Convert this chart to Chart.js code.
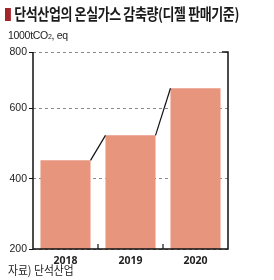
<!DOCTYPE html>
<html>
<head>
<meta charset="utf-8">
<script src="https://cdn.jsdelivr.net/npm/chart.js@4/dist/chart.umd.min.js"></script>
<style>
  html, body { margin: 0; padding: 0; background: #fff; }
  #wrap { position: relative; width: 274px; height: 280px; overflow: hidden; font-family: "Noto Sans CJK KR", sans-serif; }
  #chart { position: absolute; left: 0; top: 0; }
  .title { position: absolute; left: 5px; top: 2px; font-size: 15.5px; font-weight: 700; color: #1a1a1a; white-space: nowrap; transform: scaleX(0.84); transform-origin: left top; letter-spacing: -0.5px; }
  .title .mark { display: inline-block; width: 7px; height: 13px; background: #a3252b; margin-right: 4px; vertical-align: -1px; }
  .unit { position: absolute; left: 8px; top: 29px; font-family: "Liberation Sans", sans-serif; font-size: 10.5px; color: #222; letter-spacing: -0.3px; }
  .unit sub { font-size: 7px; vertical-align: 0; }
  .src { position: absolute; left: 8px; top: 261px; font-size: 12px; color: #222; transform: scaleX(0.9); transform-origin: left top; }
</style>
</head>
<body>
<div id="wrap">
  <canvas id="chart" width="274" height="280"></canvas>
  <div class="title"><span class="mark"></span>단석산업의 온실가스 감축량(디젤 판매기준)</div>
  <div class="unit">1000tCO<sub>2</sub>, eq</div>
  <div class="src">자료) 단석산업</div>
</div>
<script>
// data
var years = ['2018', '2019', '2020'];
var reduction = [452, 523, 657];
var tickValues = [200, 400, 600, 760];   // top line is printed as 800 in the source
var tickLabels = ['200', '400', '600', '800'];

var barColor = '#e8957e';

// draws the axis frame, the connectors between bar tops and small category marks
var decorPlugin = {
  id: 'decor',
  afterDatasetsDraw: function(chart) {
    var ctx = chart.ctx;
    var area = chart.chartArea;
    var xs = chart.scales.x;
    var bars = chart.getDatasetMeta(0).data;
    ctx.save();
    ctx.setLineDash([]);
    ctx.strokeStyle = '#111';
    ctx.lineWidth = 1.5;
    ctx.beginPath();
    ctx.moveTo(area.left, area.top);
    ctx.lineTo(area.left, area.bottom);
    ctx.lineTo(area.right, area.bottom);
    ctx.lineTo(area.right, area.top);
    ctx.lineTo(area.right - 6, area.top);
    ctx.stroke();

    ctx.lineWidth = 1.2;
    for (var i = 0; i < bars.length - 1; i++) {
      var a = bars[i], b = bars[i + 1];
      ctx.beginPath();
      ctx.moveTo(a.x + a.width / 2, a.y);
      ctx.lineTo(b.x - b.width / 2, b.y);
      ctx.stroke();
      var mid = (xs.getPixelForValue(i) + xs.getPixelForValue(i + 1)) / 2;
      ctx.beginPath();
      ctx.moveTo(mid, area.bottom);
      ctx.lineTo(mid, area.bottom - 5);
      ctx.stroke();
    }
    ctx.restore();
  }
};

new Chart(document.getElementById('chart'), {
  type: 'bar',
  data: {
    labels: years,
    datasets: [{
      data: reduction,
      backgroundColor: barColor,
      barPercentage: 0.77,
      categoryPercentage: 1.0
    }]
  },
  options: {
    responsive: false,
    animation: false,
    layout: { padding: { left: 0, right: 46, top: 52, bottom: 11 } },
    plugins: { legend: { display: false }, tooltip: { enabled: false } },
    scales: {
      x: {
        grid: { display: false },
        border: { display: false },
        ticks: { color: '#222', font: { family: 'Noto Sans', size: 10.5, weight: 'bold' }, padding: -2 },
        afterFit: function(s) { s.height = 20; }
      },
      y: {
        min: 200,
        max: 760,
        afterBuildTicks: function(s) {
          s.ticks = tickValues.map(function(v) { return { value: v }; });
        },
        grid: {
          color: '#8a8a8a',
          lineWidth: 1,
          tickColor: '#111',
          tickLength: 4,
          tickBorderDash: [],
          drawTicks: true
        },
        border: { display: false, dash: [3, 3] },
        ticks: {
          color: '#222',
          padding: 2,
          font: { family: 'Liberation Sans', size: 10.5 },
          callback: function(v, i) { return tickLabels[i]; }
        },
        afterFit: function(s) { s.width = 33; }
      }
    }
  },
  plugins: [decorPlugin]
});
</script>
</body>
</html>
